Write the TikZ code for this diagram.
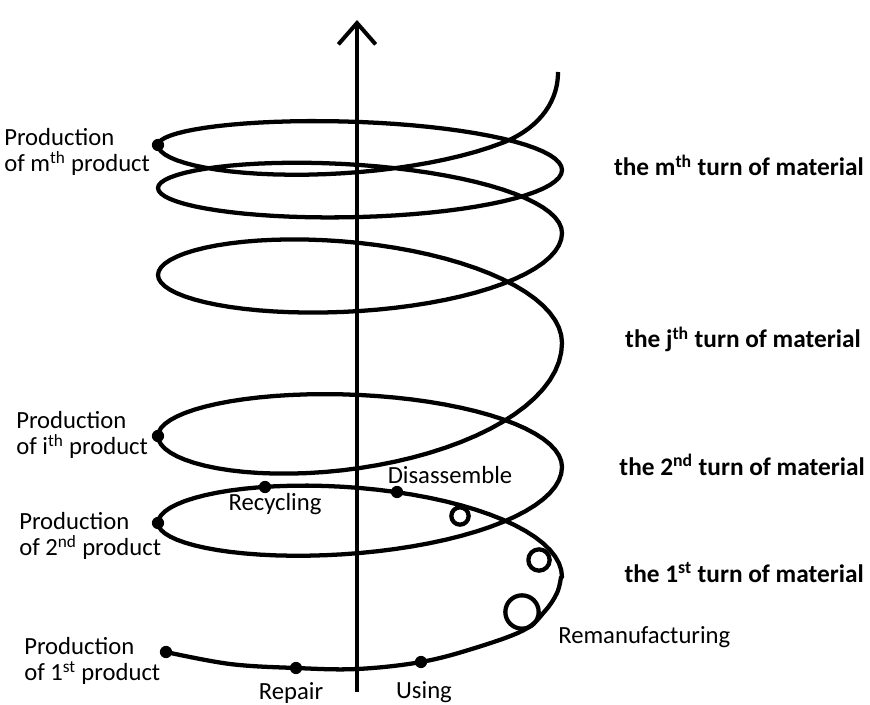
\documentclass[tikz,border=0pt]{standalone}
\usepackage{fontspec}
\setmainfont{Carlito}
\usepackage{tikz}
\usetikzlibrary{arrows.meta}

\begin{document}
\begin{tikzpicture}[x=0.75pt,y=-0.75pt,
    spiral/.style={line width=3.2pt,line join=round},
    stagedot/.style={fill=black},
    lbl/.style={font=\fontsize{18.5}{19.5}\selectfont,inner sep=0pt,align=left},
    turnlbl/.style={font=\fontsize{19}{20}\selectfont\bfseries,inner sep=0pt,anchor=base east}]
    \useasboundingbox (0,0) rectangle (870,705);

    % Material spiral: first front half by hand, then half turns
    \draw[spiral] plot[smooth,tension=0.6] coordinates {
        (166,652) (230,664) (296,668) (357,669) (421,662) (475,648) (524,630) (545,611) (557,593) (561,577)
    }
    \foreach \ta/\tb/\ya/\yb/\dep in {0/180/577/523/62, 180/360/523/467/58, 0/180/467/436/56.5,
        180/360/436/343/78.5, 0/180/343/275/66, 180/360/275/233/57, 0/180/233/188/45.5,
        180/360/188/170/38, 0/180/170/145/35.5}
    { -- plot[domain=\ta:\tb,samples=37] ({360+202*cos(\x)},{\ya+(\yb-\ya)/180*(\x-\ta)-\dep*sin(\x)}) }
    -- plot[domain=180:315,samples=28] ({360+202*cos(\x)},{145-0.3*(\x-180)-54*sin(\x)})
    .. controls (533,131) and (558,107) .. (558,72);

    % Small loops of the first turn
    \draw[spiral] (522,612) circle[radius=12.5pt];
    \draw[spiral] (539,560) circle[radius=8pt];
    \draw[spiral] (460,516) circle[radius=6.5pt];

    % Stages on the spiral
    \coordinate (prod1) at (166,652);
    \coordinate (repair) at (296,668);
    \coordinate (using) at (421,662);
    \coordinate (disas) at (397,492);
    \coordinate (recyc) at (265,487);
    \coordinate (prod2) at (158,523);
    \coordinate (prodi) at (158,436);
    \coordinate (prodm) at (158,145);
    \foreach \p in {prod1,repair,using,disas,recyc,prod2,prodi,prodm}
        \fill[stagedot] (\p) circle[radius=4.6pt];

    % Time axis
    \coordinate (axisfoot) at (357,692);
    \coordinate (axistip) at (357,20);
    \draw[line width=3pt,-{Straight Barb[length=16pt,width=28pt]}] (axisfoot) -- (axistip);

    % Labels of the stages
    \node[lbl,anchor=west] (lprodm) at (4,152) {Production\\of m\textsuperscript{th} product};
    \node[lbl,anchor=west] (lprodi) at (16,435) {Production\\of i\textsuperscript{th} product};
    \node[lbl,anchor=west] (lprod2) at (19,536) {Production\\of 2\textsuperscript{nd} product};
    \node[lbl,anchor=west] (lprod1) at (24,661) {Production\\of 1\textsuperscript{st} product};
    \node[lbl,anchor=base] (lrecyc) at (275,510) {Recycling};
    \node[lbl,anchor=base] (ldisas) at (450,483) {Disassemble};
    \node[lbl,anchor=base west] (lreman) at (558,643) {Remanufacturing};
    \node[lbl,anchor=base] (lrepair) at (291,699) {Repair};
    \node[lbl,anchor=base] (lusing) at (424,698) {Using};

    % Turns of material
    \node[turnlbl] (turnm) at (864,176) {the m\textsuperscript{th} turn of material};
    \node[turnlbl] (turnj) at (861,348) {the j\textsuperscript{th} turn of material};
    \node[turnlbl] (turn2) at (865,475) {the 2\textsuperscript{nd} turn of material};
    \node[turnlbl] (turn1) at (864,582) {the 1\textsuperscript{st} turn of material};
\end{tikzpicture}
\end{document}
